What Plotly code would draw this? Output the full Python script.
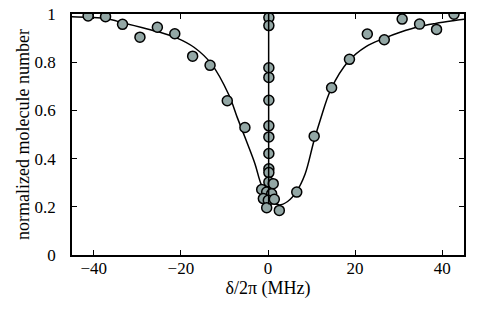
import plotly.graph_objects as go

# Broad scan data points
x_broad = [-41.3, -37.3, -33.4, -29.4, -25.4, -21.4, -17.3, -13.3, -9.35, -5.3, -1.45,
           2.6, 6.6, 10.6, 14.6, 18.7, 22.8, 26.7, 30.8, 34.8, 38.7, 42.7]
y_broad = [0.992, 0.989, 0.957, 0.904, 0.945, 0.918, 0.825, 0.787, 0.640, 0.529, 0.272,
           0.185, 0.261, 0.493, 0.694, 0.812, 0.917, 0.893, 0.979, 0.958, 0.936, 0.999]

# Narrow scan points (near zero detuning)
x_narrow = [0.2, 0.2, 0.2, 0.2, 0.2, 0.2, 0.2, 0.2, 0.2, 0.2, 0.2,
            1.2, -0.3, 0.84, -1.07, 0.07, 1.45, -0.3]
y_narrow = [0.985, 0.952, 0.777, 0.737, 0.642, 0.536, 0.490, 0.421, 0.358, 0.342, 0.303,
            0.296, 0.261, 0.254, 0.234, 0.227, 0.231, 0.196]

# Broad fit curve
x_fit = [-45, -41, -37, -33, -29, -25, -21, -17, -13, -9, -7, -5, -3, -1.5, 0.5, 2.5,
         4.5, 6.5, 8.5, 10.5, 12, 14.5, 18.5, 22.5, 26.5, 30.5, 34.5, 38.5, 42.5, 45]
y_fit = [0.989, 0.986, 0.980, 0.962, 0.944, 0.925, 0.901, 0.862, 0.793, 0.665, 0.568,
         0.475, 0.379, 0.290, 0.228, 0.208, 0.222, 0.262, 0.335, 0.470, 0.560, 0.690,
         0.805, 0.865, 0.898, 0.925, 0.947, 0.961, 0.972, 0.978]

# Narrow fit curve (appears vertical at this scale)
x_nfit = [0.15, 0.15]
y_nfit = [1.0, 0.21]

marker_style = dict(symbol="circle", size=10, color="#93a7a5",
                    line=dict(color="black", width=1.5))

fig = go.Figure()
fig.add_trace(go.Scatter(x=x_fit, y=y_fit, mode="lines", line=dict(color="black", width=1.5, shape="spline"),
                         hoverinfo="skip"))
fig.add_trace(go.Scatter(x=x_broad, y=y_broad, mode="markers", marker=marker_style))
fig.add_trace(go.Scatter(x=x_narrow, y=y_narrow, mode="markers", marker=marker_style))
fig.add_trace(go.Scatter(x=x_nfit, y=y_nfit, mode="lines", line=dict(color="black", width=1.5)))

font_family = "Liberation Serif"
axis_common = dict(showline=True, linecolor="black", linewidth=1.5, mirror="ticks",
                   ticks="inside", ticklen=5, tickwidth=1, tickcolor="black",
                   showgrid=False, zeroline=False, automargin=False,
                   tickfont=dict(family=font_family, size=17, color="black"))

fig.update_layout(
    width=484, height=322,
    margin=dict(l=72, r=20, t=14, b=67),
    paper_bgcolor="white", plot_bgcolor="white",
    showlegend=False,
    font=dict(family=font_family, color="black"),
    xaxis=dict(range=[-45, 45], tickvals=[-40, -20, 0, 20, 40],
               title=dict(text="δ/2π (MHz)", font=dict(family=font_family, size=18), standoff=1),
               ticklabelstandoff=-3, **axis_common),
    yaxis=dict(range=[0, 1], tickvals=[0, 0.2, 0.4, 0.6, 0.8, 1],
               title=dict(text="normalized molecule number", font=dict(family=font_family, size=18), standoff=0),
               ticklabelstandoff=11, **axis_common),
)

fig.write_html("out.html", config={"displayModeBar": False},
               post_script="document.body.style.margin='0';")
